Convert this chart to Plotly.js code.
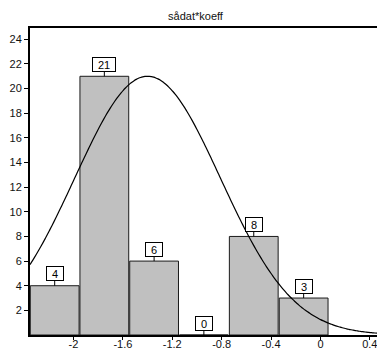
<!DOCTYPE html>
<html>
<head>
<meta charset="utf-8">
<script src="https://cdn.plot.ly/plotly-3.0.1.min.js"></script>
<style>
  html, body { margin: 0; padding: 0; background: #fff; overflow: hidden; }
  #chart { width: 377px; height: 352px; }
</style>
</head>
<body>
<div id="chart"></div>
<script>
// Histogram of sådat*koeff with a fitted normal curve
const binCenters = [-2.152, -1.75, -1.347, -0.944, -0.54, -0.136];
const binCounts  = [4, 21, 6, 0, 8, 3];
const binWidth   = 0.403;

// Normal curve parameters (mean, standard deviation, height at the mean)
const fitMean = -1.40;
const fitSd   = 0.59;
const fitPeak = 21;

const xTickVals = [-2, -1.6, -1.2, -0.8, -0.4, 0, 0.4];
const xTickText = ['-2', '-1.6', '-1.2', '-0.8', '-0.4', '0', '0.4'];
const yTickVals = [2, 4, 6, 8, 10, 12, 14, 16, 18, 20, 22, 24];

const xMin = -2.352, xMax = 0.458;

const curveX = [], curveY = [];
const nPts = 160;
for (let i = 0; i <= nPts; i++) {
  const x = xMin + (xMax - xMin) * i / nPts;
  const z = (x - fitMean) / fitSd;
  curveX.push(x);
  curveY.push(fitPeak * Math.exp(-0.5 * z * z));
}

const bars = {
  type: 'bar',
  x: binCenters,
  y: binCounts,
  width: binWidth - 0.008,
  marker: { color: '#c0c0c0', line: { color: '#1a1a1a', width: 1 } },
  hoverinfo: 'x+y'
};

const curve = {
  type: 'scatter',
  mode: 'lines',
  x: curveX,
  y: curveY,
  line: { color: '#000', width: 1.2, shape: 'spline' },
  hoverinfo: 'skip'
};

const labels = binCenters.map((c, i) => ({
  x: c,
  y: binCounts[i],
  xref: 'x',
  yref: 'y',
  text: String(binCounts[i]),
  showarrow: true,
  arrowhead: 0,
  arrowwidth: 1,
  arrowcolor: '#000',
  ax: 0,
  ay: -12,
  standoff: 0,
  font: { family: 'Liberation Sans, Arial, sans-serif', size: 11, color: '#000' },
  bgcolor: '#fff',
  bordercolor: '#000',
  borderwidth: 1,
  borderpad: 1,
  width: String(binCounts[i]).length > 1 ? 20 : 14,
  height: 11
}));

const layout = {
  width: 377,
  height: 352,
  margin: { l: 30, r: 0, t: 28, b: 17, pad: 0 },
  paper_bgcolor: '#fff',
  plot_bgcolor: '#fff',
  showlegend: false,
  bargap: 0,
  font: { family: 'Liberation Sans, Arial, sans-serif', size: 11, color: '#111' },
  title: {
    text: 'sådat*koeff',
    font: { family: 'Liberation Sans, Arial, sans-serif', size: 11, color: '#111' },
    x: 195.5 / 377,
    xref: 'container',
    xanchor: 'center',
    y: 1 - 16.5 / 352,
    yref: 'container',
    yanchor: 'middle'
  },
  xaxis: {
    range: [xMin, xMax],
    tickvals: xTickVals,
    ticktext: xTickText,
    ticks: 'outside',
    ticklen: 3,
    tickwidth: 1,
    tickcolor: '#000',
    ticklabelstandoff: -5,
    ticklabeloverflow: 'allow',
    showline: true,
    linecolor: '#000',
    linewidth: 2,
    mirror: true,
    showgrid: false,
    zeroline: false,
    tickfont: { size: 11, color: '#111' }
  },
  yaxis: {
    range: [0, 24.92],
    tickvals: yTickVals,
    ticks: 'outside',
    ticklen: 4,
    tickwidth: 1,
    tickcolor: '#000',
    showline: true,
    linecolor: '#000',
    linewidth: 2,
    showgrid: false,
    zeroline: false,
    tickfont: { size: 11, color: '#111' }
  },
  annotations: labels
};

Plotly.newPlot('chart', [bars, curve], layout, { displayModeBar: false, staticPlot: true });
</script>
</body>
</html>
